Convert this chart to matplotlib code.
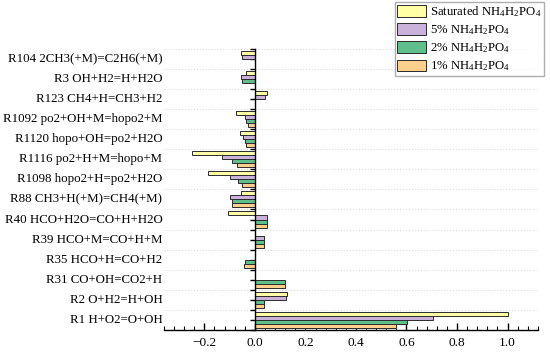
import numpy as np
import matplotlib
matplotlib.use("Agg")
import matplotlib.pyplot as plt
from matplotlib.ticker import MultipleLocator, FixedLocator

plt.rcParams['font.family'] = ['Liberation Serif', 'DejaVu Serif']
plt.rcParams['mathtext.fontset'] = 'custom'
plt.rcParams['mathtext.rm'] = 'Liberation Serif'
plt.rcParams['mathtext.it'] = 'Liberation Serif'
plt.rcParams['mathtext.bf'] = 'Liberation Serif:bold'

# reactions, top to bottom
reactions = [
    "R104 2CH3(+M)=C2H6(+M)",
    "R3 OH+H2=H+H2O",
    "R123 CH4+H=CH3+H2",
    "R1092 po2+OH+M=hopo2+M",
    "R1120 hopo+OH=po2+H2O",
    "R1116 po2+H+M=hopo+M",
    "R1098 hopo2+H=po2+H2O",
    "R88 CH3+H(+M)=CH4(+M)",
    "R40 HCO+H2O=CO+H+H2O",
    "R39 HCO+M=CO+H+M",
    "R35 HCO+H=CO+H2",
    "R31 CO+OH=CO2+H",
    "R2 O+H2=H+OH",
    "R1 H+O2=O+OH",
]

# normalized sensitivity coefficients
saturated = [-0.054, -0.034, 0.047, -0.074, -0.058, -0.249, -0.184, -0.054, -0.107, 0.0, 0.0, 0.0, 0.128, 1.0]
pct5      = [-0.050, -0.054, 0.041, -0.041, -0.047, -0.129, -0.099, -0.100, 0.049, 0.036, 0.0, 0.0, 0.124, 0.704]
pct2      = [0.0, -0.050, 0.0, -0.034, -0.040, -0.091, -0.067, -0.092, 0.049, 0.036, -0.038, 0.120, 0.036, 0.601]
pct1      = [0.0, 0.0, 0.0, -0.028, -0.034, -0.071, -0.050, -0.089, 0.047, 0.036, -0.043, 0.120, 0.036, 0.559]

series = [
    (saturated, r"Saturated NH$_4$H$_2$PO$_4$", "#FFFFA6"),
    (pct5, r"5% NH$_4$H$_2$PO$_4$", "#CBB2DA"),
    (pct2, r"2% NH$_4$H$_2$PO$_4$", "#5EBF8A"),
    (pct1, r"1% NH$_4$H$_2$PO$_4$", "#FFD08C"),
]

fig = plt.figure(figsize=(5.5, 3.54), dpi=100)
ax = fig.add_axes([0.298, 0.068, 0.68, 0.794])

y = np.arange(len(reactions))
h = 0.2
offsets = [-0.3, -0.1, 0.1, 0.3]
handles = []
for (vals, lab, col), off in zip(series, offsets):
    b = ax.barh(y + off, vals, height=h, color=col, edgecolor="#2b2b2b",
                linewidth=0.7, label=lab, zorder=3)
    handles.append(b)

ax.set_ylim(len(reactions) - 0.5, -0.5)
ax.set_xlim(-0.36, 1.12)

# spines
ax.spines['top'].set_visible(False)
ax.spines['right'].set_visible(False)
ax.spines['left'].set_position(('data', 0))
ax.spines['left'].set_zorder(4)
for s in ['left', 'bottom']:
    ax.spines[s].set_linewidth(1.0)
    ax.spines[s].set_color('black')

# x ticks
ax.xaxis.set_major_locator(MultipleLocator(0.2))
ax.xaxis.set_minor_locator(MultipleLocator(0.04))
ax.tick_params(axis='x', which='major', direction='in', length=5, width=1, labelsize=9.6, pad=5)
ax.tick_params(axis='x', which='minor', direction='in', length=3, width=0.8)

# y ticks on the zero spine, labels drawn at the axes left edge
ax.yaxis.set_major_locator(FixedLocator(y))
ax.yaxis.set_minor_locator(FixedLocator(np.arange(len(reactions) + 1) - 0.5))
ax.tick_params(axis='y', which='major', direction='out', length=3.5, width=1, labelleft=False)
ax.tick_params(axis='y', which='minor', direction='out', length=3.5, width=1)
ax.grid(axis='y', which='minor', color='#dcdcdc', linestyle=':', linewidth=0.8, zorder=0)

for yi, r in zip(y, reactions):
    ax.text(-0.004, yi, r, transform=ax.get_yaxis_transform(), ha='right', va='center',
            fontsize=9.3, clip_on=False)

fig.legend(handles=handles, loc='upper right', bbox_to_anchor=(0.989, 0.995),
           fontsize=9.2, frameon=True, fancybox=False, edgecolor='#999999',
           handlelength=2.25, handleheight=1.0, labelspacing=0.33, borderpad=0.2,
           handletextpad=0.3, borderaxespad=0)

fig.savefig("out.png", dpi=100)
